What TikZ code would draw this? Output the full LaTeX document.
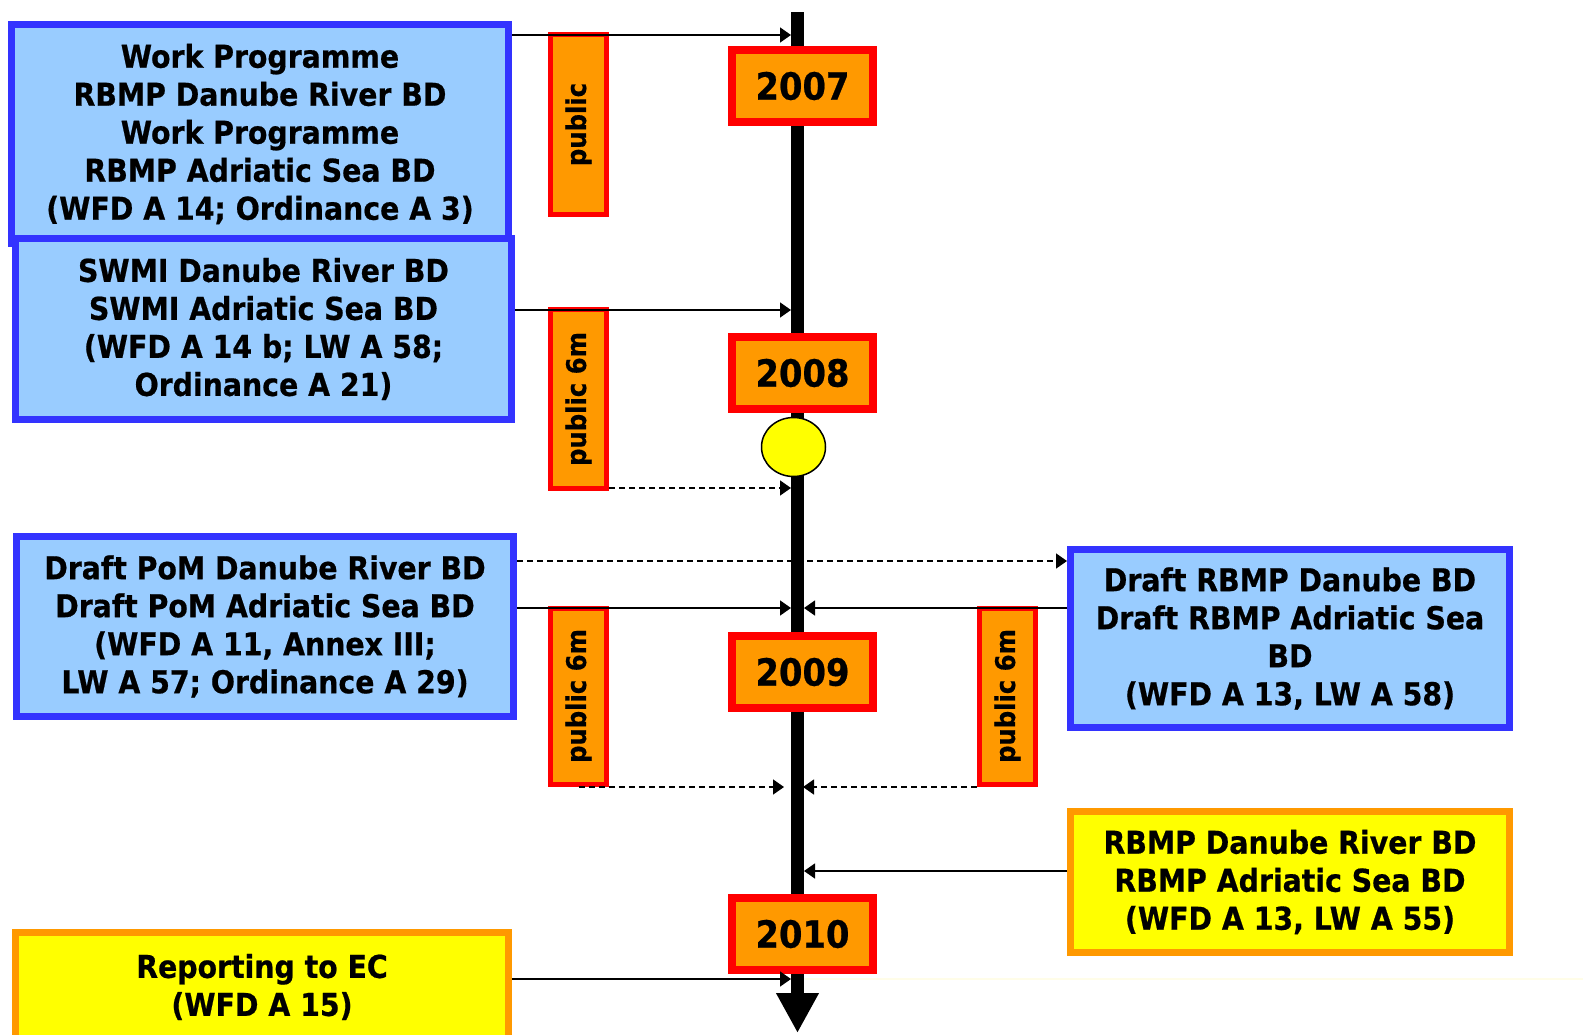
\documentclass[tikz,border=0pt]{standalone}
\usepackage{fontspec}
\usepackage{graphicx}
\setmainfont{DejaVu Sans}[FakeStretch=0.9, BoldFeatures={FakeBold=0.6}]
\usetikzlibrary{arrows.meta,shapes.geometric}
\definecolor{boxblue}{HTML}{99CCFF}
\definecolor{bordblue}{HTML}{3333FF}
\definecolor{orng}{HTML}{FF9900}
\definecolor{yel}{HTML}{FFFF00}
\definecolor{faint}{HTML}{FFFDE8}
\begin{document}
\begin{tikzpicture}[x=1pt,y=-1pt,
  bluebox/.style={draw=bordblue, fill=boxblue, line width=7pt, align=center, inner sep=0pt,
    font=\fontsize{31.5}{38}\selectfont\bfseries},
  yelbox/.style={draw=orng, fill=yel, line width=7pt, align=center, inner sep=0pt,
    font=\fontsize{31.5}{38}\selectfont\bfseries},
  yearbox/.style={draw=red, fill=orng, line width=8pt, minimum width=141pt, minimum height=72pt,
    inner sep=0pt, font=\fontsize{37.5}{44}\selectfont\bfseries},
  pubbox/.style={draw=red, fill=orng, line width=5pt, minimum width=56pt, inner sep=0pt,
    font=\fontsize{27}{30}\selectfont\bfseries},
  conn/.style={line width=1.5pt, -{Triangle[length=11pt,width=15pt]}},
  dconn/.style={conn, dash pattern=on 6pt off 4pt}]
\useasboundingbox (0,0) rectangle (1583,1034);
\fill[white] (0,0) rectangle (1583,1034);

% timeline
\coordinate (tltop) at (797.5,12);
\coordinate (tlbot) at (797.5,1033);
\draw[line width=13pt, -{Triangle[length=40pt,width=40pt]}] (tltop) -- (tlbot);

% faint line
\coordinate (fa) at (804,979);
\coordinate (fb) at (1583,979);
\draw[faint, line width=2pt] (fa) -- (fb);

% left boxes
\node[bluebox, minimum width=497pt, minimum height=219pt] (b1) at (260,134)
  {\raisebox{-3pt}{\parbox{480pt}{\centering Work Programme\\RBMP Danube River BD\\Work Programme\\RBMP Adriatic Sea BD\\(WFD A 14; Ordinance A 3)}}};
\node[bluebox, minimum width=496pt, minimum height=181pt] (b2) at (263.5,329)
  {SWMI Danube River BD\\SWMI Adriatic Sea BD\\(WFD A 14 b; LW A 58;\\Ordinance A 21)};
\node[bluebox, minimum width=497pt, minimum height=180pt] (b3) at (265,626.5)
  {Draft PoM Danube River BD\\Draft PoM Adriatic Sea BD\\(WFD A 11, Annex III;\\LW A 57; Ordinance A 29)};
\node[yelbox, minimum width=493pt, minimum height=110pt] (b4) at (262,987)
  {Reporting to EC\\(WFD A 15)};

% right boxes
\node[bluebox, minimum width=439pt, minimum height=178pt] (b5) at (1290,638.5)
  {Draft RBMP Danube BD\\Draft RBMP Adriatic Sea\\BD\\(WFD A 13, LW A 58)};
\node[yelbox, minimum width=439pt, minimum height=141pt] (b6) at (1290,882)
  {RBMP Danube River BD\\RBMP Adriatic Sea BD\\(WFD A 13, LW A 55)};

% year boxes
\node[yearbox] (y7) at (802.5,86) {2007};
\node[yearbox] (y8) at (802.5,373) {2008};
\node[yearbox] (y9) at (802.5,672) {2009};
\node[yearbox] (y10) at (802.5,934) {2010};

% milestone
\node[ellipse, draw=black, fill=yel, line width=1.5pt, minimum width=64pt, minimum height=59pt, inner sep=0pt] (ms) at (793.5,447) {};

% public boxes
\node[pubbox, minimum height=180pt] (p1) at (578.5,124.5) {\rotatebox{90}{public}};
\node[pubbox, minimum height=179pt] (p2) at (578.5,399) {\rotatebox{90}{public 6m}};
\node[pubbox, minimum height=176pt] (p3) at (578.5,696) {\rotatebox{90}{public 6m}};
\node[pubbox, minimum height=176pt] (p4) at (1007.5,696) {\rotatebox{90}{public 6m}};

% connectors
\coordinate (t1) at (791,35);
\draw[conn] (b1.east |- t1) -- (t1);
\coordinate (t2) at (791,310);
\draw[conn] (b2.east |- t2) -- (t2);
\coordinate (t3) at (791,488);
\draw[dconn] (p2.east |- t3) -- (t3);
\coordinate (d4) at (0,561);
\draw[dconn] (b3.east |- d4) -- (b5.west |- d4);
\coordinate (t5) at (791,608);
\draw[conn] (b3.east |- t5) -- (t5);
\coordinate (t6) at (804,608);
\draw[conn] (b5.west |- t6) -- (t6);
\coordinate (t7) at (784,787);
\draw[dconn] (p3.south |- t7) -- (t7);
\coordinate (t8) at (803,787);
\draw[dconn] (p4.west |- t8) -- (t8);
\coordinate (t9) at (804,871);
\draw[conn] (b6.west |- t9) -- (t9);
\coordinate (t10) at (791,979);
\draw[conn] (b4.east |- t10) -- (t10);
\end{tikzpicture}
\end{document}
